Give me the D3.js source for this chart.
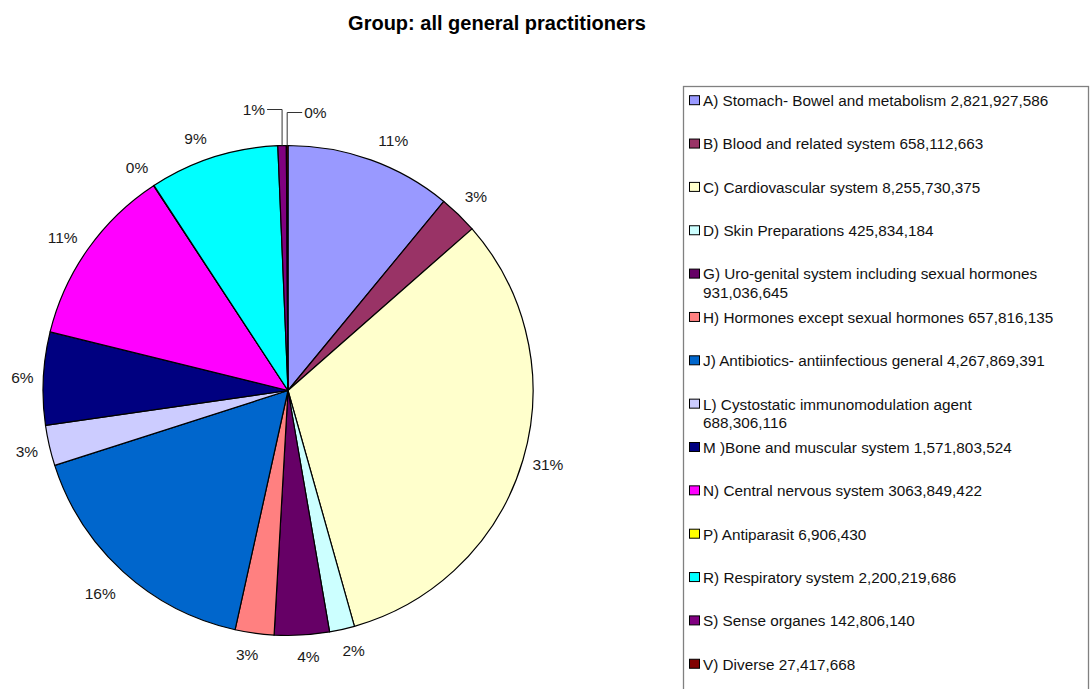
<!DOCTYPE html>
<html><head><meta charset="utf-8">
<script src="https://cdn.jsdelivr.net/npm/d3@7"></script>
<style>body{margin:0;background:#fff}svg{display:block}</style>
</head><body>
<svg id="chart" width="1092" height="689"></svg>
<script>
const title = "Group: all general practitioners";
const categories = [
  "A) Stomach- Bowel and metabolism",
  "B) Blood and related system",
  "C) Cardiovascular system",
  "D) Skin Preparations",
  "G) Uro-genital system including sexual hormones",
  "H) Hormones except sexual hormones",
  "J) Antibiotics- antiinfectious general",
  "L) Cystostatic immunomodulation agent",
  "M )Bone and muscular system",
  "N) Central nervous system",
  "P) Antiparasit",
  "R) Respiratory system",
  "S) Sense organes",
  "V) Diverse"
];
const values = [2821927586, 658112663, 8255730375, 425834184, 931036645, 657816135,
  4267869391, 688306116, 1571803524, 3063849422, 6906430, 2200219686, 142806140, 27417668];
const valueLabels = ["2,821,927,586","658,112,663","8,255,730,375","425,834,184","931,036,645",
  "657,816,135","4,267,869,391","688,306,116","1,571,803,524","3063,849,422","6,906,430",
  "2,200,219,686","142,806,140","27,417,668"];
const pctLabels = ["11%","3%","31%","2%","4%","3%","16%","3%","6%","11%","0%","9%","1%","0%"];
const colors = ["#9999FF","#993366","#FFFFCC","#CCFFFF","#660066","#FF8080","#0066CC",
  "#CCCCFF","#000080","#FF00FF","#FFFF00","#00FFFF","#800080","#800000"];
const wrappedLegend = [4, 7];

const svg = d3.select("#chart");
const font = "Liberation Sans, Arial, sans-serif";

svg.append("text").attr("x", 497).attr("y", 30).attr("text-anchor", "middle")
  .attr("font-family", font).attr("font-weight", "bold").attr("font-size", 20)
  .text(title);

const cx = 288, cy = 390.5, R = 245;
const data = categories.map((c, i) => ({name: c, value: values[i], i}));
const pie = d3.pie().value(d => d.value).sort(null);
const arcs = pie(data);
const arc = d3.arc().innerRadius(0).outerRadius(R);
const g = svg.append("g").attr("transform", `translate(${cx},${cy})`);
g.selectAll("path").data(arcs).join("path")
  .attr("d", arc).attr("fill", d => colors[d.data.i])
  .attr("stroke", "#000").attr("stroke-width", 1.2).attr("stroke-linejoin", "round");

// labels (small placement nudges mimic the original label layout)
const labelR = 270;
const nudge = {0: [14, 4], 2: [1, -3], 3: [6, -3], 4: [5, -3], 5: [-4, -3], 6: [-6, 3],
  7: [2, 0], 8: [4, 0], 9: [-5, 3], 10: [-3, 3], 11: [-10, 5]};
const leaderSide = {12: -1, 13: 1};
const leaderRise = {12: 36, 13: 33};
arcs.forEach(d => {
  const i = d.data.i;
  const a = (d.startAngle + d.endAngle) / 2;
  if (leaderSide[i] !== undefined) {
    const side = leaderSide[i];
    const x0 = R * Math.sin(a), y0 = -R * Math.cos(a);
    const y1 = -R - leaderRise[i];
    const x1 = x0 + side * 15;
    g.append("path").attr("d", `M${x0},${y0}V${y1}H${x1}`)
      .attr("fill", "none").attr("stroke", "#333").attr("stroke-width", 1);
    g.append("text").attr("x", x1 + side * 2).attr("y", y1)
      .attr("dy", "0.35em").attr("text-anchor", side < 0 ? "end" : "start")
      .attr("font-family", font).attr("font-size", 15.5).attr("fill", "#1a1a1a")
      .text(pctLabels[i]);
  } else {
    const n = nudge[i] || [0, 0];
    g.append("text").attr("x", labelR * Math.sin(a) + n[0]).attr("y", -labelR * Math.cos(a) + n[1])
      .attr("dy", "0.35em").attr("text-anchor", "middle")
      .attr("font-family", font).attr("font-size", 15.5).attr("fill", "#1a1a1a")
      .text(pctLabels[i]);
  }
});

// legend
const lg = svg.append("g");
lg.append("rect").attr("x", 683.5).attr("y", 86.5).attr("width", 405).attr("height", 620)
  .attr("fill", "#fff").attr("stroke", "#808080").attr("stroke-width", 1.3);
const y0 = 100.7, step = 43.35, textX = 703;
categories.forEach((c, i) => {
  const y = y0 + i * step;
  lg.append("rect").attr("x", 689.5).attr("y", y - 5).attr("width", 10).attr("height", 9)
    .attr("fill", colors[i]).attr("stroke", "#000").attr("stroke-width", 1);
  const wrap = wrappedLegend.includes(i);
  lg.append("text").attr("x", textX).attr("y", y).attr("dy", "0.35em")
    .attr("font-family", font).attr("font-size", 15.3).attr("fill", "#111")
    .text(wrap ? c : c + " " + valueLabels[i]);
  if (wrap) {
    lg.append("text").attr("x", textX).attr("y", y + 18.5).attr("dy", "0.35em")
      .attr("font-family", font).attr("font-size", 15.3).attr("fill", "#111").text(valueLabels[i]);
  }
});
</script>
</body></html>
